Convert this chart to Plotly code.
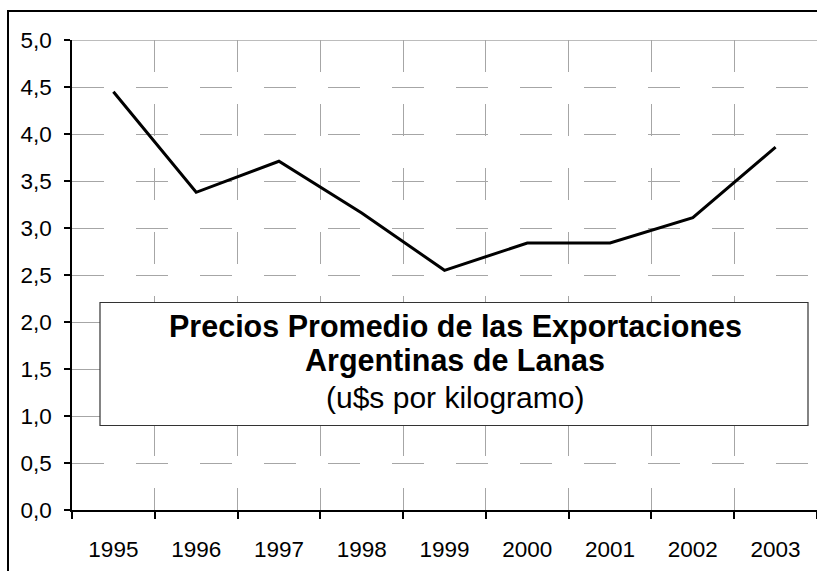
import plotly.graph_objects as go

# Average export price of Argentine wool, US$ per kilogram
years = ["1995", "1996", "1997", "1998", "1999", "2000", "2001", "2002", "2003"]
prices = [4.45, 3.38, 3.71, 3.16, 2.55, 2.84, 2.84, 3.11, 3.86]

y_ticks = [0, 0.5, 1.0, 1.5, 2.0, 2.5, 3.0, 3.5, 4.0, 4.5, 5.0]
y_tick_text = ["0,0", "0,5", "1,0", "1,5", "2,0", "2,5", "3,0", "3,5", "4,0", "4,5", "5,0"]

title_lines = ["Precios Promedio de las Exportaciones", "Argentinas de Lanas"]
subtitle = "(u$s por kilogramo)"

FONT = "Liberation Sans, Arial, sans-serif"
W, H = 817, 571
ML, MR, MT, MB = 72, 0, 40, 61
PW, PH = W - ML - MR, H - MT - MB


def px_x(p):
    return (p - ML) / PW


def px_y(p):
    return (H - MB - p) / PH


fig = go.Figure()
fig.add_trace(go.Scatter(
    x=years, y=prices, mode="lines",
    line=dict(color="black", width=3),
    hoverinfo="skip", showlegend=False,
))

grid = dict(gridcolor="#a6a6a6", gridwidth=1, griddash="32px,32px")

fig.update_xaxes(
    type="category", range=[-0.5, len(years) - 0.5],
    tickson="boundaries", ticks="outside", ticklen=7, tickwidth=1.5,
    tickcolor="black", showline=True, linecolor="black", linewidth=1.5,
    showgrid=True, **grid,
    tickfont=dict(family=FONT, size=22.5, color="black"),
    ticklabelstandoff=18,
)
fig.update_yaxes(
    range=[0, 5], tickvals=y_ticks, ticktext=y_tick_text,
    ticks="outside", ticklen=6, tickwidth=1.5, tickcolor="black",
    showline=True, linecolor="black", linewidth=1.5,
    showgrid=True, **grid, zeroline=False,
    tickfont=dict(family=FONT, size=22.5, color="black"),
    ticklabelstandoff=8,
)

shapes = [
    # solid top gridline
    dict(type="line", xref="paper", yref="y", x0=0, x1=1, y0=5, y1=5,
         line=dict(color="#a6a6a6", width=1.5)),
    # title box
    dict(type="rect", xref="paper", yref="paper",
         x0=px_x(100), x1=px_x(808), y0=px_y(425.5), y1=px_y(302.5),
         fillcolor="white", line=dict(color="#333333", width=1.2), layer="above"),
    # outer chart border
    dict(type="rect", xref="paper", yref="paper",
         x0=px_x(8), x1=px_x(900), y0=px_y(700), y1=px_y(11),
         line=dict(color="black", width=2)),
]

cx = px_x(455)
annotations = [
    dict(text=f"<b>{title_lines[0]}</b>", x=cx, y=px_y(327), xref="paper", yref="paper",
         xanchor="center", yanchor="middle", showarrow=False,
         font=dict(family=FONT, size=30.5, color="black")),
    dict(text=f"<b>{title_lines[1]}</b>", x=cx, y=px_y(361), xref="paper", yref="paper",
         xanchor="center", yanchor="middle", showarrow=False,
         font=dict(family=FONT, size=30.5, color="black")),
    dict(text=subtitle, x=cx, y=px_y(397), xref="paper", yref="paper",
         xanchor="center", yanchor="middle", showarrow=False,
         font=dict(family=FONT, size=30, color="black")),
]

fig.update_layout(
    width=W, height=H,
    margin=dict(l=ML, r=MR, t=MT, b=MB),
    paper_bgcolor="white", plot_bgcolor="white",
    shapes=shapes, annotations=annotations,
    showlegend=False,
)

fig.write_html("out.html", config={"displayModeBar": False})
